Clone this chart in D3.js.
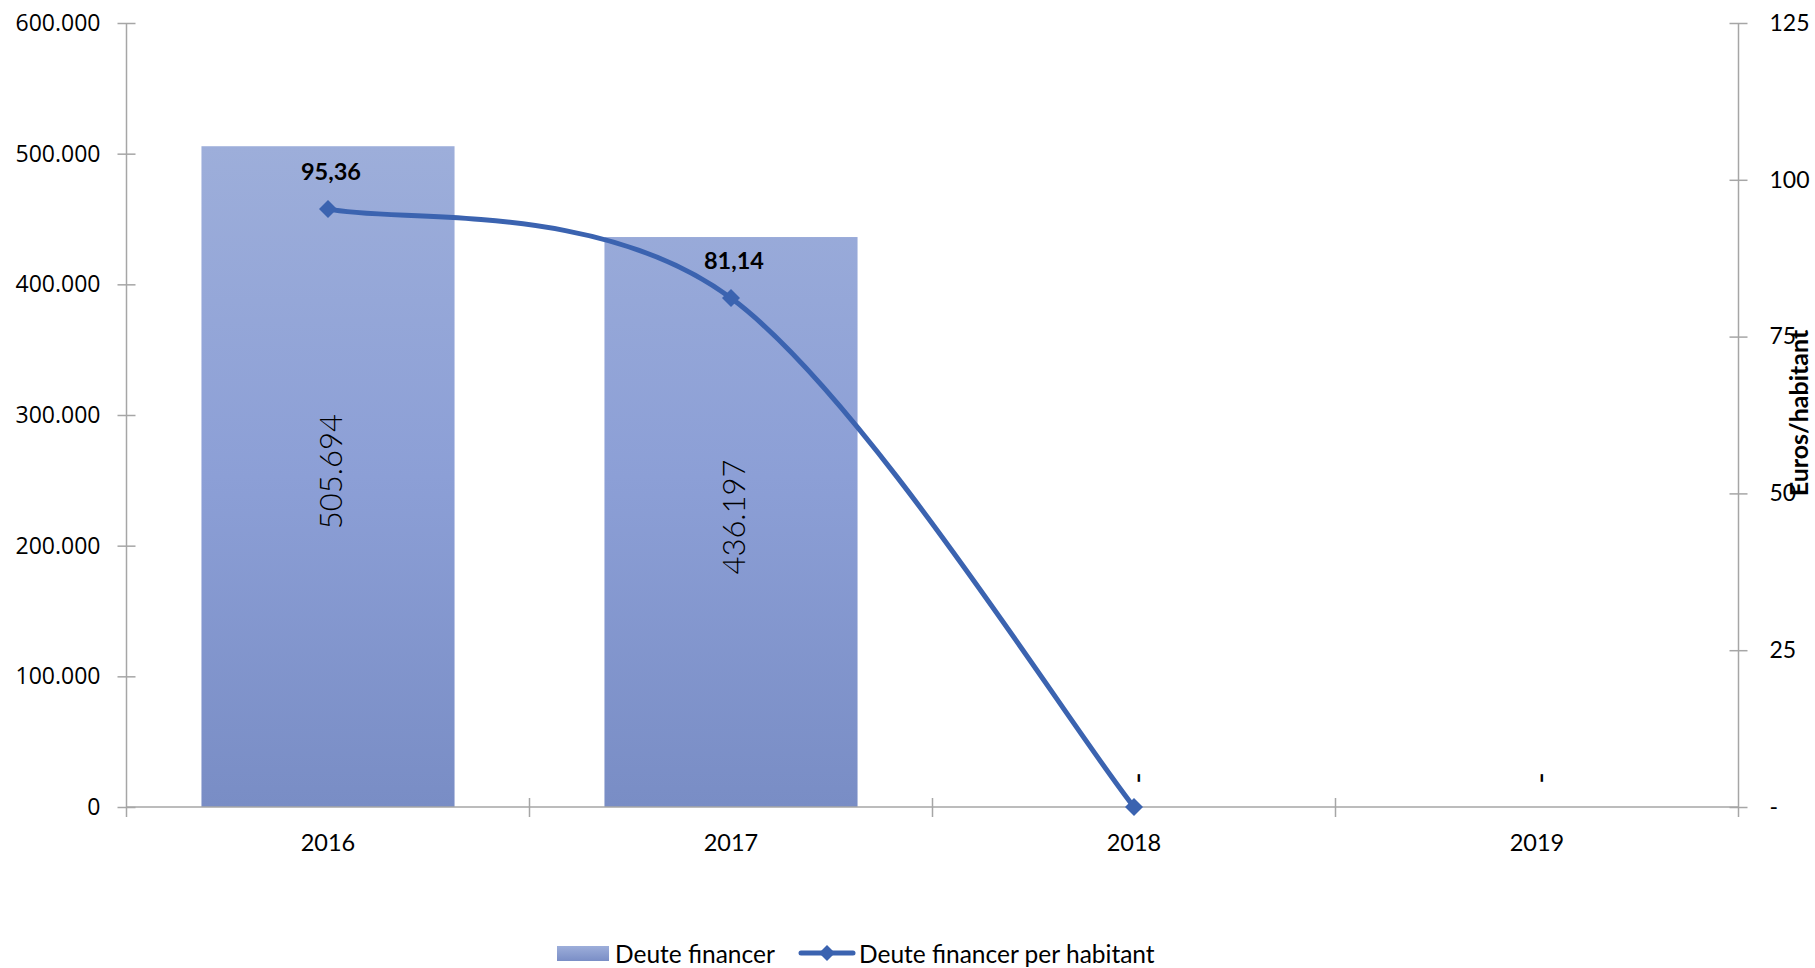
<!DOCTYPE html>
<html>
<head>
<meta charset="utf-8">
<script src="https://cdn.jsdelivr.net/npm/d3@7"></script>
<style>
  html, body { margin: 0; padding: 0; background: #fff; }
  svg { display: block; }
  text { font-family: Lato, "Open Sans", sans-serif; fill: #000; }
</style>
</head>
<body>
<svg id="chart" width="1815" height="968"></svg>
<script>
// ---- data ----
const categories = ["2016", "2017", "2018", "2019"];
const debtValues = [505694, 436197, 0, 0];          // Deute financer (€)
const perCapitaValues = [95.36, 81.14, 0, null];     // Deute financer per habitant (€/hab)
const leftTicks = [0, 100000, 200000, 300000, 400000, 500000, 600000];
const rightTicks = [0, 25, 50, 75, 100, 125];
const seriesNames = ["Deute financer", "Deute financer per habitant"];
const rightAxisTitle = "Euros/habitant";

(function () {
// ---- layout ----
const plotL = 126.5, plotR = 1738.5, plotT = 23, plotB = 807;
const axisColor = "#A6A6A6";
const lineColor = "#3B63B0";

const svg = d3.select("#chart");
const loc = d3.formatLocale({decimal: ",", thousands: ".", grouping: [3], currency: ["", "€"]});
const fmtInt = loc.format(",.0f");
const fmtDec = loc.format(",.2f");

const x = d3.scaleBand().domain(categories).range([plotL, plotR])
  .paddingInner(0.372).paddingOuter(0.186);
const yL = d3.scaleLinear().domain([0, 600000]).range([plotB, plotT]);
const yR = d3.scaleLinear().domain([0, 125]).range([plotB, plotT]);

// Excel-like smoothing curve (Catmull-Rom Bezier with duplicated end points)
function ExcelSmooth(context) { this._context = context; }
ExcelSmooth.prototype = {
  areaStart() { this._line = 0; }, areaEnd() { this._line = NaN; },
  lineStart() { this._pts = []; },
  point(px, py) { this._pts.push([+px, +py]); },
  lineEnd() {
    const p = this._pts, c = this._context, n = p.length;
    if (!n) return;
    c.moveTo(p[0][0], p[0][1]);
    for (let i = 0; i < n - 1; i++) {
      const p0 = p[Math.max(i - 1, 0)], p1 = p[i], p2 = p[i + 1], p3 = p[Math.min(i + 2, n - 1)];
      c.bezierCurveTo(
        p1[0] + (p2[0] - p0[0]) / 6, p1[1] + (p2[1] - p0[1]) / 6,
        p2[0] - (p3[0] - p1[0]) / 6, p2[1] - (p3[1] - p1[1]) / 6,
        p2[0], p2[1]);
    }
  }
};
const excelSmooth = ctx => new ExcelSmooth(ctx);

// gradient for bars
const defs = svg.append("defs");
const grad = defs.append("linearGradient").attr("id", "barGrad")
  .attr("gradientUnits", "userSpaceOnUse")
  .attr("x1", 0).attr("x2", 0).attr("y1", yL(d3.max(debtValues))).attr("y2", plotB);
grad.append("stop").attr("offset", "0%").attr("stop-color", "#9DAEDA");
grad.append("stop").attr("offset", "50%").attr("stop-color", "#8C9FD6");
grad.append("stop").attr("offset", "100%").attr("stop-color", "#798DC5");
const lgrad = defs.append("linearGradient").attr("id", "legGrad")
  .attr("x1", 0).attr("x2", 0).attr("y1", 0).attr("y2", 1);
lgrad.append("stop").attr("offset", "0%").attr("stop-color", "#9DAEDA");
lgrad.append("stop").attr("offset", "100%").attr("stop-color", "#7A8EC6");

// ---- bars ----
const data = categories.map((c, i) => ({cat: c, v: debtValues[i], p: perCapitaValues[i]}));

svg.append("g").selectAll("rect").data(data.filter(d => d.v > 0)).join("rect")
  .attr("x", d => x(d.cat)).attr("width", x.bandwidth())
  .attr("y", d => yL(d.v)).attr("height", d => yL(0) - yL(d.v))
  .attr("fill", "url(#barGrad)");

// bar labels (rotated)
svg.append("g").selectAll("text").data(data).join("text")
  .attr("transform", d => {
    const cx = x(d.cat) + x.bandwidth() / 2 + 2;
    const cy = d.v > 0 ? (yL(d.v) + yL(0)) / 2 - 5 : yL(0) - 29;
    return `translate(${cx},${cy}) rotate(-90)`;
  })
  .attr("text-anchor", "middle").attr("dominant-baseline", "central")
  .style("font-weight", d => d.v > 0 ? 300 : 400).style("font-size", "31px")
  .style("fill", "#000")
  .text(d => d.v > 0 ? fmtInt(d.v) : "-");

// ---- axes ----
const gL = svg.append("g").attr("transform", `translate(${plotL},0)`)
  .call(d3.axisLeft(yL).tickValues(leftTicks).tickFormat(fmtInt).tickSize(9).tickPadding(17));
gL.select(".domain").remove();
gL.selectAll(".tick line").attr("x1", 9).attr("stroke", axisColor).attr("stroke-width", 1.5);
gL.selectAll(".tick text").style("font-family", "'Open Sans', sans-serif").style("font-size", "23px").style("fill", "#000");
svg.append("line").attr("x1", plotL).attr("x2", plotL).attr("y1", plotT).attr("y2", plotB + 10)
  .attr("stroke", axisColor).attr("stroke-width", 1.5);

const gR = svg.append("g").attr("transform", `translate(${plotR},0)`)
  .call(d3.axisRight(yR).tickValues(rightTicks).tickFormat(d => d === 0 ? "-" : d).tickSize(9).tickPadding(22));
gR.select(".domain").remove();
gR.selectAll(".tick line").attr("x1", -9).attr("stroke", axisColor).attr("stroke-width", 1.5);
gR.selectAll(".tick text").style("font-size", "23px").style("fill", "#000");
svg.append("line").attr("x1", plotR).attr("x2", plotR).attr("y1", plotT).attr("y2", plotB + 10)
  .attr("stroke", axisColor).attr("stroke-width", 1.5);

const gB = svg.append("g").attr("transform", `translate(0,${plotB})`)
  .call(d3.axisBottom(x).tickSize(0).tickPadding(27));
gB.select(".domain").remove();
gB.selectAll(".tick text").style("font-size", "23.5px").style("fill", "#000");
svg.append("line").attr("x1", plotL).attr("x2", plotR).attr("y1", plotB).attr("y2", plotB)
  .attr("stroke", axisColor).attr("stroke-width", 1.5);
const step = x.step();
const bounds = d3.range(categories.length + 1).map(i => x.range()[0] + i * step);
svg.append("g").selectAll("line").data(bounds.slice(1, -1)).join("line")
  .attr("x1", d => d).attr("x2", d => d).attr("y1", plotB - 9).attr("y2", plotB + 10)
  .attr("stroke", axisColor).attr("stroke-width", 1.5);

svg.append("text").attr("transform", `translate(1798,413) rotate(-90)`)
  .attr("text-anchor", "middle").attr("dominant-baseline", "central")
  .style("font-weight", 700).style("font-size", "25px").text(rightAxisTitle);

// ---- line ----
const lineData = data.filter(d => d.p !== null);
const line = d3.line()
  .x(d => x(d.cat) + x.bandwidth() / 2)
  .y(d => yR(d.p))
  .curve(excelSmooth);
svg.append("path").datum(lineData).attr("d", line)
  .attr("fill", "none").attr("stroke", lineColor).attr("stroke-width", 5)
  .attr("stroke-linejoin", "round");

const diamond = s => `M0,${-s}L${s},0L0,${s}L${-s},0Z`;
svg.append("g").selectAll("path").data(lineData).join("path")
  .attr("transform", d => `translate(${x(d.cat) + x.bandwidth() / 2},${yR(d.p)})`)
  .attr("d", diamond(9)).attr("fill", lineColor);

svg.append("g").selectAll("text").data(lineData.filter(d => d.p > 0)).join("text")
  .attr("x", d => x(d.cat) + x.bandwidth() / 2 + 3)
  .attr("y", d => yR(d.p) - 38)
  .attr("text-anchor", "middle").attr("dominant-baseline", "central")
  .style("font-weight", 700).style("font-size", "23.5px")
  .text(d => fmtDec(d.p));

// ---- legend ----
const leg = svg.append("g");
leg.append("rect").attr("x", 557).attr("y", 946).attr("width", 52).attr("height", 15)
  .attr("fill", "url(#legGrad)");
leg.append("text").attr("x", 615).attr("y", 953).attr("dominant-baseline", "central")
  .style("font-size", "24.5px").text(seriesNames[0]);
leg.append("line").attr("x1", 801).attr("x2", 853).attr("y1", 953).attr("y2", 953)
  .attr("stroke", lineColor).attr("stroke-width", 5).attr("stroke-linecap", "round");
leg.append("path").attr("transform", "translate(827,953)").attr("d", diamond(8)).attr("fill", lineColor);
leg.append("text").attr("x", 859).attr("y", 953).attr("dominant-baseline", "central")
  .style("font-size", "24.5px").text(seriesNames[1]);
})();
</script>
</body>
</html>
